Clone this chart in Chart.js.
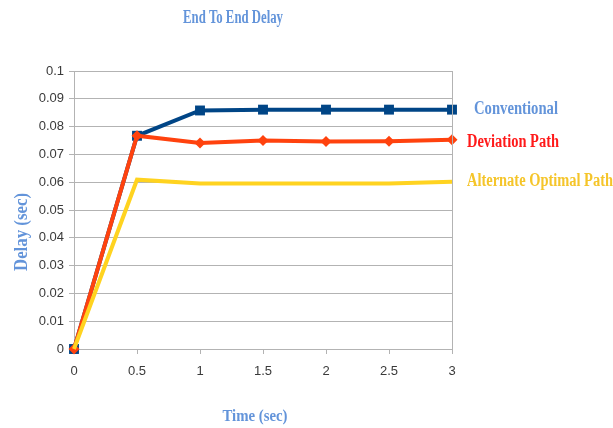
<!DOCTYPE html>
<html>
<head>
<meta charset="utf-8">
<script src="https://cdn.jsdelivr.net/npm/chart.js@4/dist/chart.umd.min.js"></script>
<style>
  html, body { margin: 0; padding: 0; background: #ffffff; }
  #wrap { width: 613px; height: 428px; position: relative; }
</style>
</head>
<body>
<div id="wrap"><canvas id="c" width="613" height="428"></canvas></div>
<script>
// Simulation time (seconds)
const times = [0, 0.5, 1, 1.5, 2, 2.5, 3];

// End-to-end delay (seconds) for each routing scheme
const conventional = [0, 0.0767, 0.0858, 0.0861, 0.0861, 0.0861, 0.0861];
const deviationPath = [0, 0.0767, 0.0741, 0.0750, 0.0746, 0.0747, 0.0753];
const alternateOptimal = [0, 0.0609, 0.0595, 0.0595, 0.0595, 0.0595, 0.0602];

const seriesNames = ['Conventional', 'Deviation Path', 'Alternate Optimal Path'];

const xTickLabels = ['0', '0.5', '1', '1.5', '2', '2.5', '3'];
const yTickLabels = ['0', '0.01', '0.02', '0.03', '0.04', '0.05', '0.06', '0.07', '0.08', '0.09', '0.1'];

const titleText = 'End To End Delay';
const xTitle = 'Time (sec)';
const yTitle = 'Delay (sec)';

const toPoints = (vals) => vals.map((v, i) => ({ x: times[i], y: v }));

const headingBlue = '#6394da';
const serifFamily = '"Liberation Serif", "DejaVu Serif", serif';

// Draws bold serif text squeezed horizontally to a given width (condensed look)
function drawNarrow(ctx, text, x, y, size, width, align) {
  ctx.save();
  ctx.font = 'bold ' + size + 'px ' + serifFamily;
  ctx.textBaseline = 'alphabetic';
  ctx.textAlign = 'left';
  const natural = ctx.measureText(text).width;
  const sx = width / natural;
  let left = x;
  if (align === 'center') left = x - width / 2;
  ctx.translate(left, y);
  ctx.scale(sx, 1);
  ctx.fillText(text, 0, 0);
  ctx.restore();
}

// Titles, right-side series labels and the plot's right border
const decorations = {
  id: 'decorations',
  afterDraw(chart) {
    const { ctx, chartArea } = chart;
    const yScale = chart.scales.y;
    ctx.save();

    // right border of the plot area
    ctx.strokeStyle = '#b3b3b3';
    ctx.lineWidth = 1;
    ctx.beginPath();
    ctx.moveTo(Math.round(chartArea.right) + 0.5, chartArea.top);
    ctx.lineTo(Math.round(chartArea.right) + 0.5, chartArea.bottom);
    ctx.stroke();

    // chart title
    ctx.fillStyle = headingBlue;
    drawNarrow(ctx, titleText, 233, 23, 18, 100, 'center');

    // x axis title
    drawNarrow(ctx, xTitle, 255, 421, 17, 65, 'center');

    // y axis title (reads bottom to top)
    ctx.save();
    ctx.translate(27, 232);
    ctx.rotate(-Math.PI / 2);
    drawNarrow(ctx, yTitle, 0, 0, 18, 78, 'center');
    ctx.restore();

    // series labels beside the line ends
    const labelColors = [headingBlue, '#ff1a1a', '#f5c52a'];
    const labelX = [474, 467, 467];
    const labelWidth = [84, 92, 146];
    const labelDy = [4, 7, 4];
    chart.data.datasets.forEach((ds, i) => {
      const last = ds.data[ds.data.length - 1];
      const y = yScale.getPixelForValue(last.y) + labelDy[i];
      ctx.fillStyle = labelColors[i];
      drawNarrow(ctx, seriesNames[i], labelX[i], y, 18, labelWidth[i], 'left');
    });

    ctx.restore();
  }
};

new Chart(document.getElementById('c'), {
  type: 'line',
  data: {
    datasets: [
      {
        label: seriesNames[0],
        data: toPoints(conventional),
        borderColor: '#004586',
        backgroundColor: '#004586',
        borderWidth: 4,
        pointStyle: 'rect',
        pointRadius: 7,
        pointBorderWidth: 0,
        tension: 0,
        clip: false,
        order: 3
      },
      {
        label: seriesNames[1],
        data: toPoints(deviationPath),
        borderColor: '#ff420e',
        backgroundColor: '#ff420e',
        borderWidth: 4,
        pointStyle: 'rectRot',
        pointRadius: 5.5,
        pointBorderWidth: 0,
        tension: 0,
        clip: false,
        order: 2
      },
      {
        label: seriesNames[2],
        data: toPoints(alternateOptimal),
        borderColor: '#ffd320',
        backgroundColor: '#ffd320',
        borderWidth: 4,
        pointRadius: 0,
        tension: 0,
        clip: false,
        order: 1
      }
    ]
  },
  options: {
    responsive: false,
    animation: false,
    layout: { padding: { top: 71, right: 161, left: 0, bottom: 0 } },
    plugins: {
      legend: { display: false },
      title: { display: false },
      tooltip: { enabled: false }
    },
    scales: {
      x: {
        type: 'linear',
        min: 0,
        max: 3,
        afterFit: (s) => { s.height = 79; },
        ticks: {
          stepSize: 0.5,
          color: '#3a3a3a',
          font: { family: '"Liberation Sans", Arial, sans-serif', size: 13 },
          padding: 10,
          maxRotation: 0,
          callback: (v) => xTickLabels[Math.round(v * 2)]
        },
        grid: {
          drawOnChartArea: false,
          drawTicks: true,
          tickLength: 5,
          color: '#b3b3b3'
        },
        border: { color: '#b3b3b3' }
      },
      y: {
        type: 'linear',
        min: 0,
        max: 0.1,
        afterFit: (s) => { s.width = 74; },
        ticks: {
          stepSize: 0.01,
          color: '#3a3a3a',
          font: { family: '"Liberation Sans", Arial, sans-serif', size: 13 },
          padding: 5,
          callback: (v) => yTickLabels[Math.round(v * 100)]
        },
        grid: {
          color: '#b3b3b3',
          tickLength: 5
        },
        border: { color: '#b3b3b3' }
      }
    }
  },
  plugins: [decorations]
});
</script>
</body>
</html>
